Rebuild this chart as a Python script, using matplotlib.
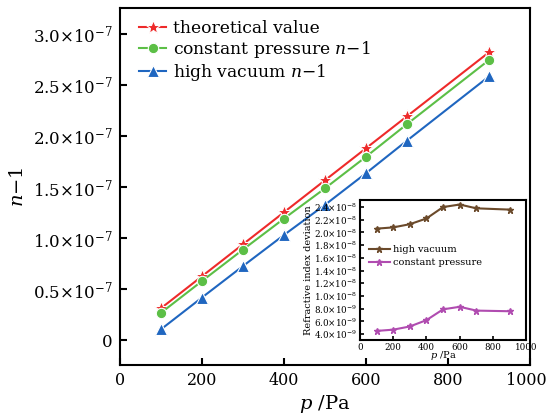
import matplotlib
matplotlib.use("Agg")
import matplotlib.pyplot as plt
import matplotlib.transforms as mtransforms
import numpy as np

plt.rcParams['font.family'] = ['DejaVu Serif']
plt.rcParams['mathtext.fontset'] = 'dejavuserif'

pressure = [100, 200, 300, 400, 500, 600, 700, 900]
theoretical = [0.313e-7, 0.626e-7, 0.939e-7, 1.252e-7, 1.565e-7, 1.878e-7, 2.191e-7, 2.817e-7]
constant_dev = [4.5e-9, 4.7e-9, 5.2e-9, 6.2e-9, 7.9e-9, 8.3e-9, 7.7e-9, 7.6e-9]
vacuum_dev = [2.06e-8, 2.08e-8, 2.13e-8, 2.22e-8, 2.40e-8, 2.44e-8, 2.38e-8, 2.36e-8]
constant = [t - d for t, d in zip(theoretical, constant_dev)]
vacuum = [t - d for t, d in zip(theoretical, vacuum_dev)]

main_yticks = [0, 0.5e-7, 1.0e-7, 1.5e-7, 2.0e-7, 2.5e-7, 3.0e-7]
main_ylabels = ['0', r'$0.5{\times}10^{-7}$', r'$1.0{\times}10^{-7}$', r'$1.5{\times}10^{-7}$',
                r'$2.0{\times}10^{-7}$', r'$2.5{\times}10^{-7}$', r'$3.0{\times}10^{-7}$']
xticks = [0, 200, 400, 600, 800, 1000]
inset_yticks = [4e-9, 6e-9, 8e-9, 1.0e-8, 1.2e-8, 1.4e-8, 1.6e-8, 1.8e-8, 2.0e-8, 2.2e-8, 2.4e-8]
inset_ylabels = [r'$4.0{\times}10^{-9}$', r'$6.0{\times}10^{-9}$', r'$8.0{\times}10^{-9}$',
                 r'$1.0{\times}10^{-8}$', r'$1.2{\times}10^{-8}$', r'$1.4{\times}10^{-8}$',
                 r'$1.6{\times}10^{-8}$', r'$1.8{\times}10^{-8}$', r'$2.0{\times}10^{-8}$',
                 r'$2.2{\times}10^{-8}$', r'$2.4{\times}10^{-8}$']

fig = plt.figure(figsize=(5.47, 4.19), dpi=100)
ax = fig.add_axes([0.219, 0.129, 0.750, 0.852])

ax.plot(pressure, theoretical, '-', color='#ee2a2a', lw=1.5, marker='*', ms=10,
        mec='white', mew=0.8, label='theoretical value')
ax.plot(pressure, constant, '-', color='#5cbf46', lw=1.5, marker='o', ms=7.5,
        mec='white', mew=0.8, label=r'constant pressure $n{-}1$')
ax.plot(pressure, vacuum, '-', color='#1f66c0', lw=1.5, marker='^', ms=8.5,
        mec='white', mew=0.8, label=r'high vacuum $n{-}1$')

ax.set_xlim(0, 1000)
ax.set_ylim(-2.4e-8, 3.25e-7)
ax.set_xticks(xticks)
ax.set_xticklabels([str(v) for v in xticks])
ax.set_yticks(main_yticks)
ax.set_yticklabels(main_ylabels)
ax.tick_params(direction='in', length=5, width=1.5, labelsize=12, pad=5)
ax.tick_params(axis='x', labelsize=11.5)
for s in ax.spines.values():
    s.set_linewidth(1.5)
ax.set_xlabel(r'$p$ /Pa', fontsize=14, labelpad=3)
ax.set_ylabel(r'$n{-}1$', fontsize=14, labelpad=4)
ax.legend(loc='upper left', frameon=False, fontsize=12.3, handlelength=1.6,
          handletextpad=0.4, labelspacing=0.1, borderaxespad=0.0,
          bbox_to_anchor=(0.03, 0.985))

# keep the last x tick label inside the canvas
last = ax.get_xticklabels()[-1]
last.set_transform(last.get_transform() + mtransforms.ScaledTranslation(-4/100, 0, fig.dpi_scale_trans))

ins = fig.add_axes([0.658, 0.1885, 0.304, 0.334])
ins.plot(pressure, vacuum_dev, '-', color='#6b4a2b', lw=1.5, marker='*', ms=5,
         label='high vacuum')
ins.plot(pressure, constant_dev, '-', color='#b04cb0', lw=1.5, marker='*', ms=5,
         label='constant pressure')
ins.set_xlim(0, 1000)
ins.set_ylim(3.07e-9, 2.51e-8)
ins.set_xticks(xticks)
ins.set_xticklabels([str(v) for v in xticks])
ins.set_yticks(inset_yticks)
ins.set_yticklabels(inset_ylabels)
ins.tick_params(direction='in', length=3, width=1.2, labelsize=6.3, pad=2)
for s in ins.spines.values():
    s.set_linewidth(1.5)
ins.set_xlabel(r'$p$ /Pa', fontsize=7, labelpad=-2)
ins.set_ylabel('Refractive index deviation', fontsize=7, labelpad=1)
ins.legend(loc='center left', frameon=False, fontsize=7, handlelength=2.2,
           handletextpad=0.3, labelspacing=0.4, bbox_to_anchor=(0.0, 0.6))

fig.savefig('out.png', dpi=100)
